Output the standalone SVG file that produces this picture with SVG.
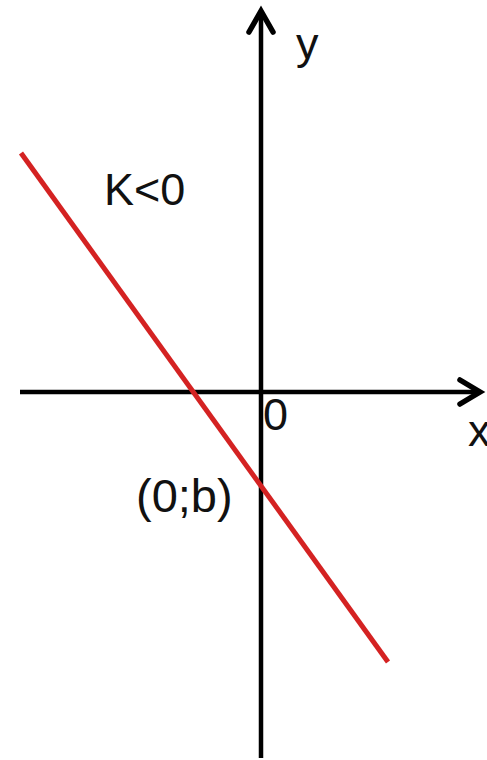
<svg xmlns="http://www.w3.org/2000/svg" width="487" height="760" viewBox="0 0 487 760">
<style>
.axis{stroke:#000;stroke-width:4.5;fill:none;stroke-linecap:butt}
.head{stroke:#000;stroke-width:5.5;fill:none;stroke-linecap:round;stroke-linejoin:miter}
.line{stroke:#d42222;stroke-width:5;stroke-linecap:butt}
.t{font-family:"Liberation Sans",Arial,sans-serif;font-size:45px;fill:#111}
</style>
<rect width="487" height="760" fill="#fff"/>
<g id="axes">
<line class="axis" x1="261" y1="11" x2="261" y2="758"/>
<polyline class="head" points="249,32 261,11 273,32"/>
<line class="axis" x1="20" y1="392" x2="479" y2="392"/>
<polyline class="head" points="460,380 480,392 460,404"/>
</g>
<g id="graph">
<line class="line" x1="21" y1="153" x2="388" y2="662"/>
</g>
<g id="labels">
<text class="t" x="296" y="59">y</text>
<text class="t" x="468" y="446">x</text>
<text class="t" x="263" y="430">0</text>
<text class="t" x="104" y="205">K&lt;0</text>
<text class="t" x="136" y="512" style="font-size:47px">(0;b)</text>
</g>
</svg>
